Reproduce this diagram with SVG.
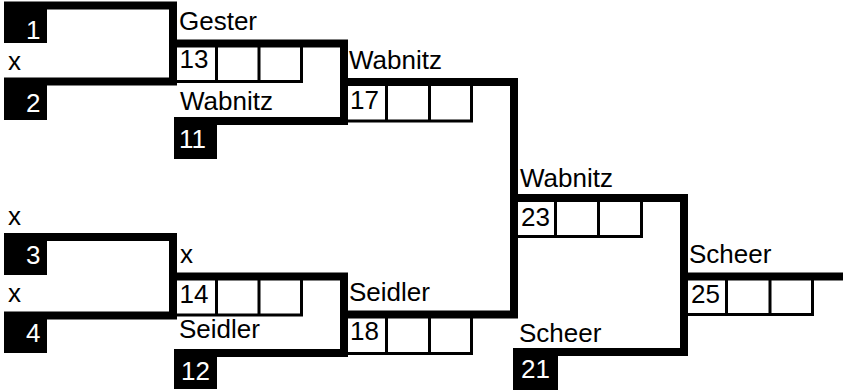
<svg xmlns="http://www.w3.org/2000/svg" width="843" height="390" viewBox="0 0 843 390">
<style>
.bar{stroke:#000;stroke-width:8;fill:none;stroke-linecap:butt;stroke-linejoin:miter}
.cell{stroke:#000;stroke-width:3;fill:none}
.seed{fill:#000}
.t{font-family:"Liberation Sans",Arial,sans-serif;font-size:26px;fill:#000}
.w{fill:#fff}
</style>
<rect width="843" height="390" fill="#fff"/>
<g id="connectors">
<path class="bar" d="M4,5.5 H173 V81.5 H4"/>
<path class="bar" d="M4,237 H173 V315.5 H4"/>
<path class="bar" d="M173,43.5 H344 V121 H174"/>
<path class="bar" d="M173,276.5 H344 V353 H174"/>
<path class="bar" d="M344,82 H514 V314.5 H344"/>
<path class="bar" d="M514,198 H684 V352 H513"/>
<path class="bar" d="M684,276.5 H843"/>
</g>
<g id="seed1"><rect class="seed" x="4" y="2" width="43" height="41"/><text class="t w" x="26" y="39">1</text></g>
<g id="seed2"><rect class="seed" x="4" y="78" width="43" height="42"/><text class="t w" x="26" y="112">2</text><text class="t" x="8" y="70">x</text></g>
<g id="seed3"><rect class="seed" x="4" y="233" width="43" height="42"/><text class="t w" x="26" y="264">3</text><text class="t" x="8" y="225">x</text></g>
<g id="seed4"><rect class="seed" x="4" y="312" width="43" height="41"/><text class="t w" x="26" y="342">4</text><text class="t" x="8" y="302">x</text></g>
<g id="seed11"><rect class="seed" x="174" y="117" width="43" height="42"/><text class="t w" x="179" y="148">11</text></g>
<g id="seed12"><rect class="seed" x="174" y="349" width="43" height="40"/><text class="t w" x="181" y="380">12</text></g>
<g id="seed21"><rect class="seed" x="513" y="349" width="45" height="41"/><text class="t w" x="521" y="378">21</text></g>
<g id="match13">
<path class="cell" d="M177,81.5 H303 M216.5,47 V83 M259,47 V83 M301.5,47 V83"/>
<text class="t" x="179.5" y="68">13</text>
<text class="t" x="179" y="30">Gester</text>
<text class="t" x="180" y="110">Wabnitz</text>
</g>
<g id="match14">
<path class="cell" d="M177,315 H303 M216.5,280 V316.5 M259,280 V316.5 M301.5,280 V316.5"/>
<text class="t" x="179.5" y="303">14</text>
<text class="t" x="180" y="263">x</text>
<text class="t" x="179" y="338">Seidler</text>
</g>
<g id="match17">
<path class="cell" d="M347,121 H473 M386.5,86 V122.5 M429.5,86 V122.5 M471.5,86 V122.5"/>
<text class="t" x="350" y="109">17</text>
<text class="t" x="349" y="69">Wabnitz</text>
</g>
<g id="match18">
<path class="cell" d="M347,353.5 H473 M386.5,318 V355 M429.5,318 V355 M471.5,318 V355"/>
<text class="t" x="350" y="340">18</text>
<text class="t" x="349" y="301">Seidler</text>
</g>
<g id="match23">
<path class="cell" d="M518,236.5 H643 M555.5,202 V238 M598.5,202 V238 M641.5,202 V238"/>
<text class="t" x="521" y="226">23</text>
<text class="t" x="520" y="187">Wabnitz</text>
<text class="t" x="519" y="342">Scheer</text>
</g>
<g id="match25">
<path class="cell" d="M688,314.5 H814 M726.5,280 V316 M770,280 V316 M812.5,280 V316"/>
<text class="t" x="691" y="303">25</text>
<text class="t" x="689" y="263">Scheer</text>
</g>
</svg>
